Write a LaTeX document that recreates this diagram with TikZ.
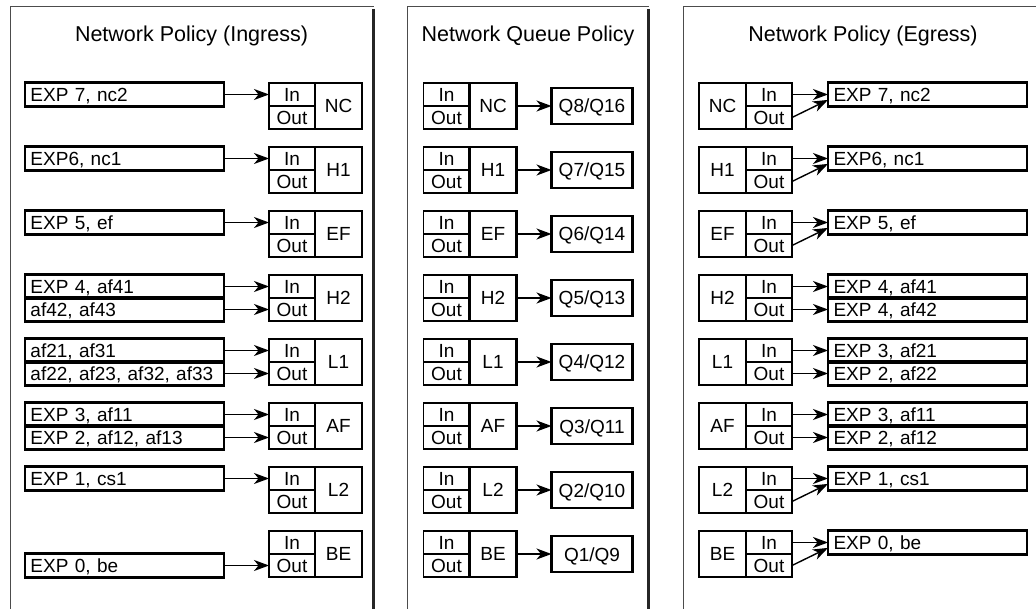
\documentclass[tikz,border=0pt]{standalone}
\usepackage{fontspec}
\setmainfont{Liberation Sans}
\usetikzlibrary{arrows.meta,positioning,calc}
\tikzset{every node/.style={font=\fontsize{19}{22}\selectfont, outer sep=0pt},
port/.style={draw, line width=1.6pt, minimum width=46pt, minimum height=23pt, inner sep=0pt},
cls/.style={draw, line width=2.2pt, minimum width=47pt, minimum height=46pt, inner sep=0pt},
expbox/.style={draw, line width=2.6pt, minimum height=24pt, text width=188pt, inner xsep=5.5pt,
  inner ysep=0pt, text height=14.5pt, text depth=0pt, align=left},
qbox/.style={draw, line width=2.6pt, minimum width=81pt, minimum height=36pt, inner sep=0pt,
  text height=14pt, text depth=0pt},
title/.style={font=\fontsize{21.5}{24}\selectfont},
panel/.style={draw=black!70, line width=1pt},
rim/.style={draw=black!85, line width=3pt}
}

\begin{document}
\begin{tikzpicture}[x=1pt, y=1pt, line width=1.4pt, > = {Stealth[length=15pt,width=11pt,inset=4.5pt]}]
    \useasboundingbox (0,0) rectangle (1036,-609);

    % the three panels
    \draw[panel] (10,-609) |- (373.5,-7);
    \draw[rim]   (373.5,-9) -- (373.5,-609);
    \draw[panel] (407,-609) |- (648.5,-7);
    \draw[rim]   (648.5,-9) -- (648.5,-609);
    \draw[panel] (683.5,-609) |- (1036,-7);

    \node[title] (t_ing) at (191.5,-36) {Network Policy (Ingress)};
    \node[title] (t_que) at (528,-36)   {Network Queue Policy};
    \node[title] (t_egr) at (863,-36)   {Network Policy (Egress)};

    % forwarding classes, one row each
    \foreach \c [count=\k from 0] in {NC,H1,EF,H2,L1,AF,L2,BE} {
      \node[port]                    (li_\k) at (292,-94.5-64*\k) {In};
      \node[port, below=0pt of li_\k] (lo_\k)                      {Out};
      \node[cls, anchor=west]        (lc_\k) at (li_\k.south east) {\c};

      \node[port]                    (mi_\k) at (446.5,-94.5-64*\k) {In};
      \node[port, below=0pt of mi_\k] (mo_\k)                        {Out};
      \node[cls, anchor=west]        (mc_\k) at (mi_\k.south east)   {\c};

      \node[port]                    (ri_\k) at (769,-94.5-64*\k) {In};
      \node[port, below=0pt of ri_\k] (ro_\k)                      {Out};
      \node[cls, anchor=east]        (rc_\k) at (ri_\k.south west) {\c};
    }

    % queues
    \foreach \k in {0,...,7} {
      \pgfmathtruncatemacro\qa{8-\k}
      \pgfmathtruncatemacro\qb{16-\k}
      \node[qbox, right=35pt of mc_\k] (q_\k) {Q\qa/Q\qb};
      \draw[->] (mc_\k) -- (q_\k);
    }

    % ingress markings
    \foreach \k/\p/\t in {0/li/{EXP 7, nc2}, 1/li/{EXP6, nc1}, 2/li/{EXP 5, ef},
        3/li/{EXP 4, af41}, 3/lo/{af42, af43}, 4/li/{af21, af31}, 4/lo/{af22, af23, af32, af33},
        5/li/{EXP 3, af11}, 5/lo/{EXP 2, af12, af13}, 6/li/{EXP 1, cs1}, 7/lo/{EXP 0, be}} {
      \node[expbox, left=45pt of \p_\k] (lb_\p\k) {\t};
      \draw[->] (lb_\p\k) -- (\p_\k);
    }

    % egress markings
    \foreach \k/\p/\t in {0/ri/{EXP 7, nc2}, 1/ri/{EXP6, nc1}, 2/ri/{EXP 5, ef},
        3/ri/{EXP 4, af41}, 3/ro/{EXP 4, af42}, 4/ri/{EXP 3, af21}, 4/ro/{EXP 2, af22},
        5/ri/{EXP 3, af11}, 5/ro/{EXP 2, af12}, 6/ri/{EXP 1, cs1}, 7/ri/{EXP 0, be}} {
      \node[expbox, right=36pt of \p_\k] (rb_\p\k) {\t};
      \draw[->] (\p_\k) -- (rb_\p\k);
    }
    \foreach \k in {0,1,2,6,7}
      \draw[->] (ro_\k.east) -- ($(rb_ri\k.west)!0.45!(rb_ri\k.south west)$);
\end{tikzpicture}
\end{document}
